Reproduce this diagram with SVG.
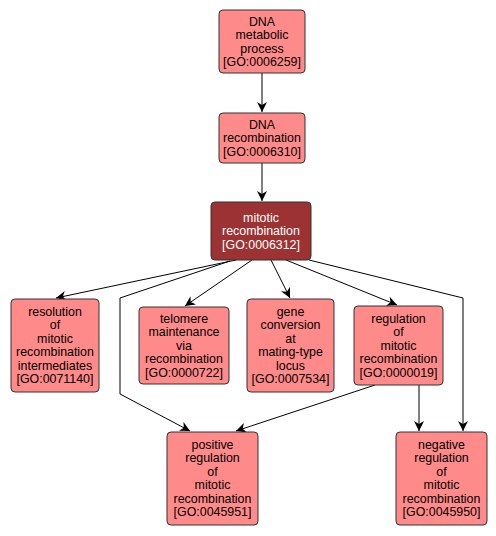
<svg xmlns="http://www.w3.org/2000/svg" width="496" height="536" viewBox="0 0 496 536">
<defs>
<style>
.n rect{fill:#ff8a8a;stroke:#333;stroke-width:1}
.sel rect{fill:#9c3232;stroke:#333;stroke-width:1}
text{font-family:"Liberation Sans",Arial,sans-serif;font-size:12.4px;text-anchor:middle;fill:#000}
.sel text{fill:#fff}
.e path{fill:none;stroke:#000;stroke-width:1;marker-end:url(#ah)}
</style>
<marker id="ah" markerUnits="userSpaceOnUse" markerWidth="12" markerHeight="10" refX="10" refY="5" orient="auto">
<path d="M0,0 L10,5 L0,10 L3,5 z" fill="#000"/>
</marker>
</defs>
<rect width="496" height="536" fill="#fff"/>
<g class="e" id="edges">
<path d="M262,73 L262,112"/>
<path d="M262,163 L262,201"/>
<path d="M236,260 L56,298"/>
<path d="M230,261 L120,298 L120,394 L190,431"/>
<path d="M252,260 L185,306"/>
<path d="M271,260 L290,298"/>
<path d="M286,260 L397,305"/>
<path d="M309,260 L463,298 L463,431"/>
<path d="M375,385 L236,431"/>
<path d="M419,385 L419,431"/>
</g>
<g class="n" id="GO0006259">
<rect x="219" y="10" width="86" height="63" rx="4"/>
<text x="262" y="25.5">DNA</text>
<text x="262" y="39">metabolic</text>
<text x="262" y="52.5">process</text>
<text x="262" y="66">[GO:0006259]</text>
</g>
<g class="n" id="GO0006310">
<rect x="219" y="113" width="86" height="50" rx="4"/>
<text x="262" y="128.5">DNA</text>
<text x="262" y="142">recombination</text>
<text x="262" y="155.5">[GO:0006310]</text>
</g>
<g class="sel" id="GO0006312">
<rect x="211" y="202" width="100" height="58" rx="4"/>
<text x="261" y="221.5">mitotic</text>
<text x="261" y="235">recombination</text>
<text x="261" y="248.5">[GO:0006312]</text>
</g>
<g class="n" id="GO0071140">
<rect x="11" y="299" width="88" height="93" rx="4"/>
<text x="55" y="315.75">resolution</text>
<text x="55" y="329.25">of</text>
<text x="55" y="342.75">mitotic</text>
<text x="55" y="356.25">recombination</text>
<text x="55" y="369.75">intermediates</text>
<text x="55" y="383.25">[GO:0071140]</text>
</g>
<g class="n" id="GO0000722">
<rect x="139" y="307" width="90" height="77" rx="4"/>
<text x="184" y="322.5">telomere</text>
<text x="184" y="336">maintenance</text>
<text x="184" y="349.5">via</text>
<text x="184" y="363">recombination</text>
<text x="184" y="376.5">[GO:0000722]</text>
</g>
<g class="n" id="GO0007534">
<rect x="247" y="299" width="87" height="93" rx="4"/>
<text x="290.5" y="315.75">gene</text>
<text x="290.5" y="329.25">conversion</text>
<text x="290.5" y="342.75">at</text>
<text x="290.5" y="356.25">mating-type</text>
<text x="290.5" y="369.75">locus</text>
<text x="290.5" y="383.25">[GO:0007534]</text>
</g>
<g class="n" id="GO0000019">
<rect x="354" y="306" width="89" height="79" rx="4"/>
<text x="398.5" y="322.5">regulation</text>
<text x="398.5" y="336">of</text>
<text x="398.5" y="349.5">mitotic</text>
<text x="398.5" y="363">recombination</text>
<text x="398.5" y="376.5">[GO:0000019]</text>
</g>
<g class="n" id="GO0045951">
<rect x="167" y="432" width="91" height="93" rx="4"/>
<text x="212.5" y="448.75">positive</text>
<text x="212.5" y="462.25">regulation</text>
<text x="212.5" y="475.75">of</text>
<text x="212.5" y="489.25">mitotic</text>
<text x="212.5" y="502.75">recombination</text>
<text x="212.5" y="516.25">[GO:0045951]</text>
</g>
<g class="n" id="GO0045950">
<rect x="396" y="432" width="91" height="93" rx="4"/>
<text x="441.5" y="448.75">negative</text>
<text x="441.5" y="462.25">regulation</text>
<text x="441.5" y="475.75">of</text>
<text x="441.5" y="489.25">mitotic</text>
<text x="441.5" y="502.75">recombination</text>
<text x="441.5" y="516.25">[GO:0045950]</text>
</g>
</svg>
